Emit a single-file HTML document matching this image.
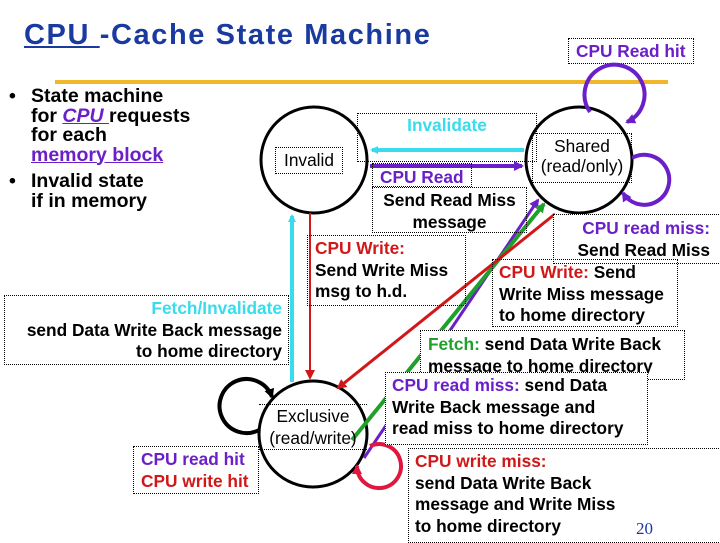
<!DOCTYPE html>
<html><head><meta charset="utf-8"><style>
body{margin:0;width:720px;height:540px;background:#fff;position:relative;overflow:hidden;font-family:"Liberation Sans",Arial,sans-serif}
.t{position:absolute;white-space:nowrap;font-weight:bold;font-size:17.3px;line-height:21.5px;color:#000}
.b{position:absolute;border:1px dotted #000;box-sizing:border-box}
.p{color:#6a1fc8}.r{color:#d01818}.c{color:#38dcec}.g{color:#1fa02a}
.n{font-weight:normal}
</style></head><body>
<div class="t" style="left:24px;top:16px;font-size:29px;line-height:38px;letter-spacing:1.6px;color:#1a3aa0;font-weight:bold"><span style="text-decoration:underline">CPU </span>-Cache State Machine</div>
<div style="position:absolute;left:55px;top:80px;width:613px;height:4px;background:#f0b828"></div>
<div class="b" style="left:568px;top:38px;width:126px;height:26px"></div>
<div class="t p" style="left:576px;top:41px">CPU Read hit</div>

<div class="t" style="left:9px;top:87px;font-size:19.5px;line-height:19.5px">•</div>
<div class="t" style="left:31px;top:87px;font-size:19.5px;line-height:19.5px">State machine<br>for <i class="p" style="text-decoration:underline">CPU </i> requests<br>for each<br><span class="p" style="text-decoration:underline">memory block</span></div>
<div class="t" style="left:9px;top:172px;font-size:19.5px;line-height:19.5px">•</div>
<div class="t" style="left:31px;top:172px;font-size:19.5px;line-height:19.5px">Invalid state<br>if in memory</div>

<svg width="720" height="540" style="position:absolute;left:0;top:0">
<defs>
<marker id="ac" markerWidth="8" markerHeight="8" refX="6" refY="4" orient="auto" markerUnits="userSpaceOnUse"><path d="M0,0L8,4L0,8z" fill="#38dcec"/></marker>
<marker id="ap" markerWidth="10" markerHeight="10" refX="8" refY="5" orient="auto" markerUnits="userSpaceOnUse"><path d="M0,0L10,5L0,10z" fill="#6a1fc8"/></marker>
<marker id="ar" markerWidth="10" markerHeight="10" refX="8" refY="5" orient="auto" markerUnits="userSpaceOnUse"><path d="M0,0L10,5L0,10z" fill="#d01818"/></marker>
<marker id="ag" markerWidth="10" markerHeight="10" refX="8" refY="5" orient="auto" markerUnits="userSpaceOnUse"><path d="M0,0L10,5L0,10z" fill="#1fa02a"/></marker>
<marker id="ak" markerWidth="10" markerHeight="10" refX="8" refY="5" orient="auto" markerUnits="userSpaceOnUse"><path d="M0,0L10,5L0,10z" fill="#000"/></marker>
<marker id="am" markerWidth="10" markerHeight="10" refX="8" refY="5" orient="auto" markerUnits="userSpaceOnUse"><path d="M0,0L10,5L0,10z" fill="#e01840"/></marker>
</defs>
<g fill="none" stroke-width="3">
<circle cx="314" cy="160" r="53" stroke="#000"/>
<circle cx="579" cy="160" r="53" stroke="#000"/>
<ellipse cx="313" cy="434" rx="54" ry="53" stroke="#000"/>
<line x1="524" y1="150" x2="372" y2="150" stroke="#38dcec" stroke-width="4" marker-end="url(#ac)"/>
<line x1="370" y1="166" x2="522" y2="166" stroke="#6a1fc8" stroke-width="4" marker-end="url(#ap)"/>
<line x1="292" y1="382" x2="292" y2="216" stroke="#38dcec" stroke-width="4" marker-end="url(#ac)"/>
<line x1="310" y1="213" x2="310" y2="378" stroke="#d01818" stroke-width="2" marker-end="url(#ar)"/>
<line x1="364" y1="458" x2="538" y2="200" stroke="#6a1fc8" marker-end="url(#ap)"/>
<line x1="352" y1="440" x2="544" y2="204" stroke="#1fa02a" stroke-width="4" marker-end="url(#ag)"/>
<line x1="555" y1="214" x2="338" y2="388" stroke="#d01818" marker-end="url(#ar)"/>
<path d="M590,112 A30,30 0 1 1 627,122" stroke="#6a1fc8" stroke-width="4" marker-end="url(#ap)"/>
<path d="M632,158 A25,25 0 1 1 623,193" stroke="#6a1fc8" stroke-width="4" marker-end="url(#ap)"/>
<path d="M259,430 A27,27 0 1 1 272,397" stroke="#000" stroke-width="4" marker-end="url(#ak)"/>
<path d="M370,446 A22,22 0 1 1 357,466" stroke="#e01840" stroke-width="4" marker-end="url(#am)"/>
</g>
</svg>

<div class="b" style="left:357px;top:113px;width:180px;height:49px"></div>
<div class="t c" style="left:357px;top:115px;width:180px;text-align:center">Invalidate</div>
<div class="b" style="left:275px;top:147px;width:68px;height:27px;background:#fff"></div>
<div class="t n" style="left:275px;top:150px;width:68px;text-align:center">Invalid</div>
<div class="b" style="left:532px;top:133px;width:100px;height:50px"></div>
<div class="t n" style="left:532px;top:136px;width:100px;text-align:center;line-height:20px">Shared<br>(read/only)</div>
<div class="b" style="left:372px;top:163px;width:100px;height:24px"></div>
<div class="t p" style="left:380px;top:167px">CPU Read</div>
<div class="b" style="left:372px;top:187px;width:155px;height:46px"></div>
<div class="t" style="left:372px;top:190px;width:155px;text-align:center">Send Read Miss<br>message</div>
<div class="b" style="left:553px;top:214px;width:170px;height:50px;background:#fff"></div>
<div class="t" style="left:553px;top:218px;width:157px;text-align:right"><span class="p">CPU read miss:</span><br>Send Read Miss</div>
<div class="b" style="left:307px;top:235px;width:159px;height:71px"></div>
<div class="t" style="left:315px;top:238px"><span class="r">CPU Write:</span><br>Send Write Miss<br>msg to h.d.</div>
<div class="b" style="left:492px;top:259px;width:186px;height:68px"></div>
<div class="t" style="left:499px;top:262px"><span class="r">CPU Write:</span> Send<br>Write Miss message<br>to home directory</div>
<div class="b" style="left:4px;top:295px;width:285px;height:70px"></div>
<div class="t" style="left:4px;top:298px;width:278px;text-align:right"><span class="c">Fetch/Invalidate</span><br>send Data Write Back message<br>to home directory</div>
<div class="b" style="left:420px;top:330px;width:265px;height:50px;background:#fff"></div>
<div class="t" style="left:428px;top:334px"><span class="g">Fetch:</span> send Data Write Back<br>message to home directory</div>
<div class="b" style="left:385px;top:372px;width:263px;height:73px;background:#fff"></div>
<div class="t" style="left:392px;top:375px"><span class="p">CPU read miss:</span> send Data<br>Write Back message and<br>read miss to home directory</div>
<div class="b" style="left:259px;top:404px;width:108px;height:46px;border-left:none;border-right:none"></div>
<div class="t n" style="left:259px;top:406px;width:108px;text-align:center">Exclusive<br>(read/write)</div>
<div class="b" style="left:133px;top:446px;width:126px;height:48px"></div>
<div class="t" style="left:141px;top:449px"><span class="p">CPU read hit</span><br><span class="r">CPU write hit</span></div>
<div class="b" style="left:408px;top:448px;width:315px;height:95px;background:#fff"></div>
<div class="t" style="left:415px;top:451px"><span class="r">CPU write miss:</span><br>send Data Write Back<br>message and Write Miss<br>to home directory</div>
<div class="t n" style="left:636px;top:518px;font-family:'Liberation Serif',serif;font-size:17px;color:#1a3aa0">20</div>
</body></html>
